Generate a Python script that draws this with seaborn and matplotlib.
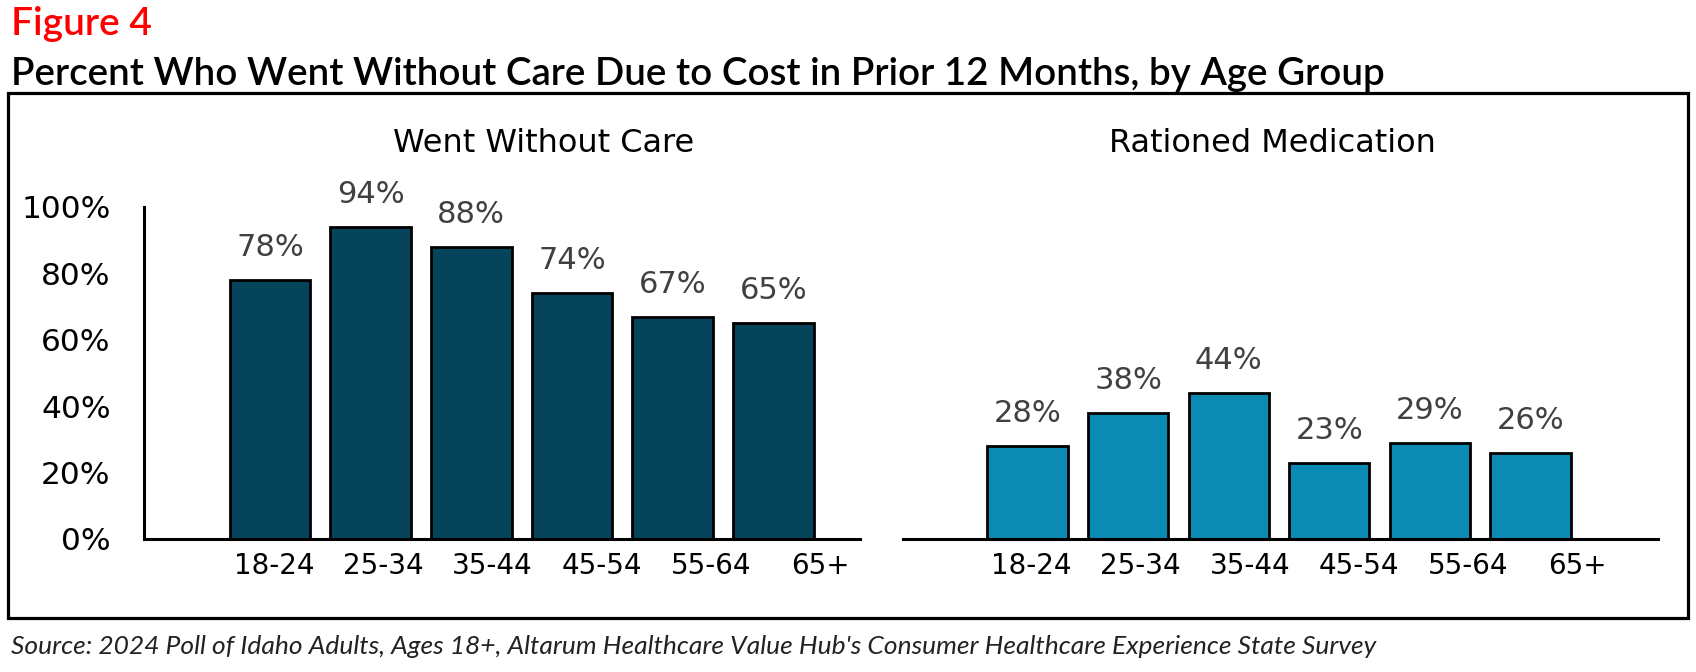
import numpy as np
import pandas as pd
import matplotlib
matplotlib.use("Agg")
import matplotlib.pyplot as plt
import seaborn as sns
from matplotlib.patches import Rectangle

# data
age_groups = ["18-24", "25-34", "35-44", "45-54", "55-64", "65+"]
went_without_care = [78, 94, 88, 74, 67, 65]
rationed_medication = [28, 38, 44, 23, 29, 26]
panel_titles = ["Went Without Care", "Rationed Medication"]
y_ticks = [0, 20, 40, 60, 80, 100]

dark_teal = "#05445A"
light_teal = "#0B8AB3"
label_grey = "#404040"

sns.set_theme(style="white")
plt.rcParams["font.family"] = ["Lato", "DejaVu Sans"]
chart_font = ["DejaVu Sans"]

fig = plt.figure(figsize=(16.96, 6.72), dpi=100)
W, H = 1696, 672

def px_axes(x0, x1, ytop, ybot):
    return fig.add_axes([x0 / W, 1 - ybot / H, (x1 - x0) / W, (ybot - ytop) / H])

ax_left = px_axes(144, 860, 207, 539)
ax_right = px_axes(903, 1658, 207, 539)

panels = [
    (ax_left, went_without_care, dark_teal, (-1.25, 5.86), 544),
    (ax_right, rationed_medication, light_teal, (-1.24, 6.27), 1272),
]

# the tick labels in the original sit on a slightly wider grid than the bars
tick_pos = np.arange(len(age_groups)) * 1.085 + 0.04

for i, (ax, vals, col, xlim, title_x) in enumerate(panels):
    df = pd.DataFrame({"age": age_groups, "pct": vals})
    sns.barplot(data=df, x="age", y="pct", color=col, saturation=1,
                width=0.8, edgecolor="black", linewidth=2.0, ax=ax)
    for bar, v in zip(ax.patches, vals):
        ax.annotate(f"{v}%", (bar.get_x() + bar.get_width() / 2, bar.get_height()),
                    xytext=(0, 13), textcoords="offset points",
                    ha="center", va="bottom", fontsize=22, color=label_grey,
                    family=chart_font)
    ax.set_ylim(0, 100)
    ax.set_xlim(*xlim)
    ax.set_xlabel("")
    ax.set_ylabel("")
    ax.set_xticks(tick_pos)
    ax.set_xticklabels(age_groups, fontsize=20, color="black", family=chart_font)
    ax.tick_params(axis="x", length=0, pad=9)
    for s in ["top", "right"]:
        ax.spines[s].set_visible(False)
    ax.spines["bottom"].set_linewidth(2.2)
    ax.spines["bottom"].set_color("black")
    if i == 0:
        ax.set_yticks(y_ticks)
        ax.set_yticklabels([f"{t}%" for t in y_ticks], fontsize=22.5, color="black",
                           family=chart_font)
        ax.tick_params(axis="y", length=0, pad=24)
        ax.spines["left"].set_linewidth(2.2)
        ax.spines["left"].set_color("black")
    else:
        ax.set_yticks([])
        ax.spines["left"].set_visible(False)
    ax.set_facecolor("none")
    fig.text(title_x / W, 1 - 143 / H, panel_titles[i], ha="center", va="center",
             fontsize=23, color="black", family=chart_font)

# frame round the chart area
fig.patches.append(Rectangle((8 / W, 1 - 618 / H), 1680 / W, 525 / H,
                             transform=fig.transFigure, fill=False,
                             edgecolor="black", linewidth=2.3))

fig.text(11 / W, 1 - 24 / H, "Figure 4", ha="left", va="center",
         fontsize=28, color="#FF0000", fontweight="semibold")
fig.text(11 / W, 1 - 74 / H,
         "Percent Who Went Without Care Due to Cost in Prior 12 Months, by Age Group",
         ha="left", va="center", fontsize=27.7, color="black", fontweight="semibold")
fig.text(11 / W, 1 - 646 / H,
         "Source: 2024 Poll of Idaho Adults, Ages 18+, Altarum Healthcare Value Hub's "
         "Consumer Healthcare Experience State Survey",
         ha="left", va="center", fontsize=19, color="#222222", style="italic")

fig.savefig("out.png", dpi=100)
